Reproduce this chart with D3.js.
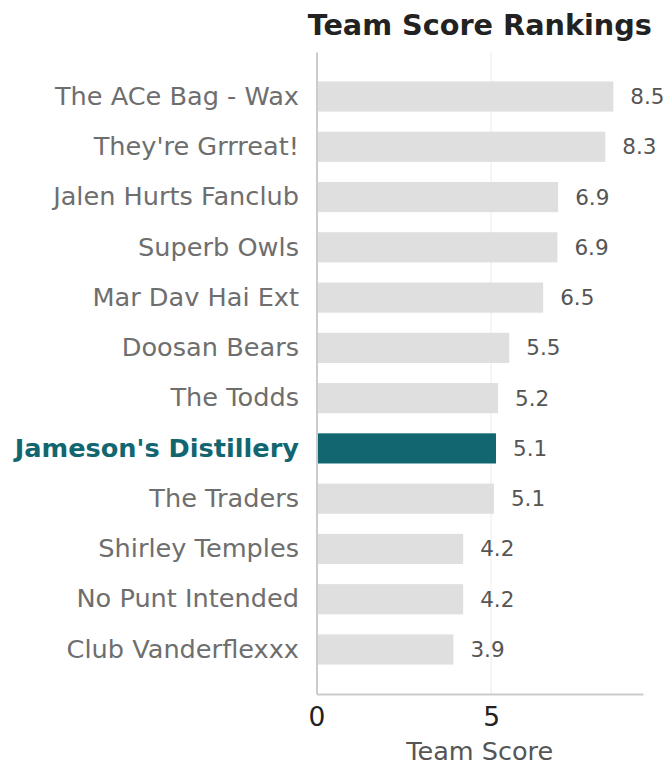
<!DOCTYPE html>
<html><head><meta charset="utf-8">
<script src="https://cdn.jsdelivr.net/npm/d3@7"></script>
<style>body{margin:0;background:#fff;} svg{display:block;font-family:"DejaVu Sans",sans-serif;}</style>
</head><body>
<svg id="c" width="669" height="763"></svg>
<script>
const teams = ["The ACe Bag - Wax","They're Grrreat!","Jalen Hurts Fanclub","Superb Owls","Mar Dav Hai Ext","Doosan Bears","The Todds","Jameson's Distillery","The Traders","Shirley Temples","No Punt Intended","Club Vanderflexxx"];
const scores = [8.5,8.27,6.92,6.9,6.49,5.52,5.2,5.14,5.08,4.2,4.2,3.92];
const highlight = "Jameson's Distillery";
const xTicks = [0,5];
const title = "Team Score Rankings";
const xLabel = "Team Score";

(function(){
const data = teams.map((t,i)=>({team:t, score:scores[i]}));
const svg = d3.select("#c");
const pLeft = 316.5, pRight = 643, pTop = 52, pBottom = 694;
const x = d3.scaleLinear().domain([0, 9.35]).range([pLeft, pRight]);
const y = d3.scaleBand().domain(teams).range([pTop, pBottom]).paddingInner(0.4).paddingOuter(0.585);

// gridlines
svg.append("g").selectAll("line").data(xTicks.filter(d=>d>0)).join("line")
  .attr("x1",d=>x(d)).attr("x2",d=>x(d)).attr("y1",pTop).attr("y2",pBottom)
  .attr("stroke","#ebebeb").attr("stroke-width",1);

// bars
svg.append("g").selectAll("rect").data(data).join("rect")
  .attr("x",x(0)).attr("y",d=>y(d.team)).attr("width",d=>x(d.score)-x(0)).attr("height",y.bandwidth())
  .attr("fill",d=>d.team===highlight?"#11666f":"#dfdfdf");

// value labels
svg.append("g").selectAll("text").data(data).join("text")
  .attr("x",d=>x(d.score)+17).attr("y",d=>y(d.team)+y.bandwidth()/2)
  .attr("dominant-baseline","central").attr("font-size",21.5).attr("fill","#555")
  .text(d=>d3.format(".1f")(d.score));

// left axis (category labels)
const yAxis = svg.append("g").attr("transform",`translate(${pLeft},0)`)
  .call(d3.axisLeft(y).tickSize(0).tickPadding(17.5));
yAxis.select(".domain").attr("stroke","#cccccc").attr("stroke-width",2);
yAxis.selectAll("text").attr("font-size",25.6).attr("font-family","DejaVu Sans")
  .attr("fill",d=>d===highlight?"#11666f":"#6e6e6e")
  .attr("font-weight",d=>d===highlight?"bold":"normal");

// bottom axis
const xAxis = svg.append("g").attr("transform",`translate(0,${pBottom})`)
  .call(d3.axisBottom(x).tickValues(xTicks).tickSize(0).tickPadding(13).tickFormat(d3.format("d")));
xAxis.select(".domain").attr("stroke","#cccccc").attr("stroke-width",2);
xAxis.selectAll("text").attr("font-size",26.5).attr("font-family","DejaVu Sans").attr("fill","#222");

// axis title
svg.append("text").attr("x",(pLeft+pRight)/2).attr("y",760).attr("text-anchor","middle")
  .attr("font-size",25.5).attr("fill","#555").text(xLabel);

// title
svg.append("text").attr("x",(pLeft+pRight)/2).attr("y",35).attr("text-anchor","middle")
  .attr("font-size",28.7).attr("font-weight","bold").attr("fill","#222").text(title);
})();
</script>
</body></html>
